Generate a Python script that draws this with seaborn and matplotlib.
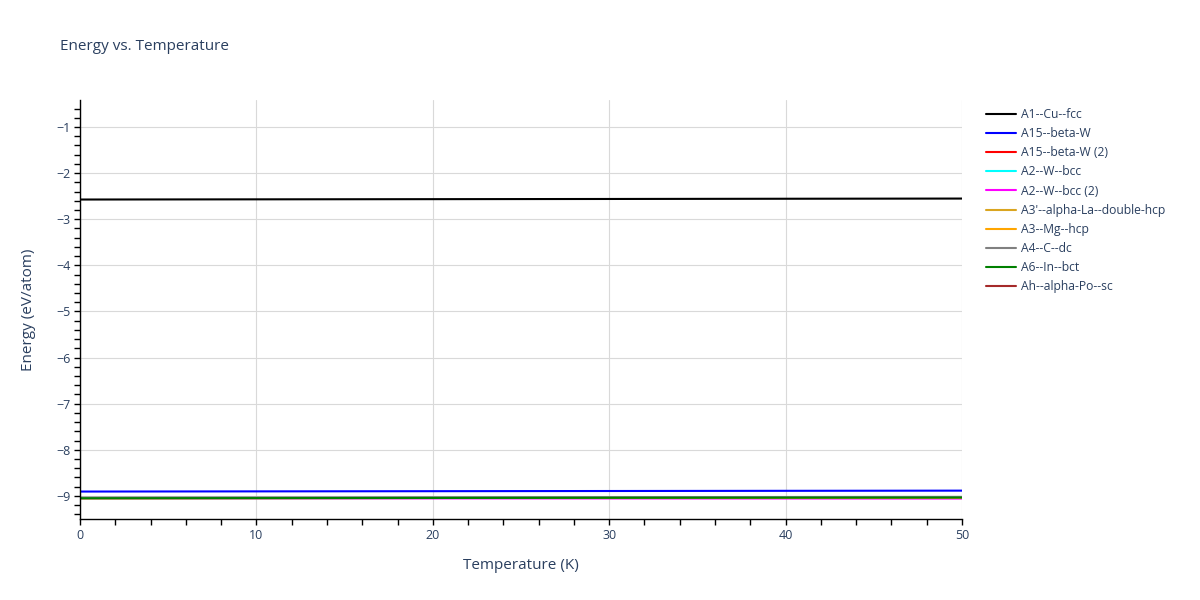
import numpy as np
import pandas as pd
import matplotlib
matplotlib.use("Agg")
import matplotlib.pyplot as plt
import seaborn as sns
from matplotlib.ticker import MultipleLocator
from matplotlib.lines import Line2D

temperature = [0, 10, 20, 30, 40, 50]
series_names = ["A1--Cu--fcc", "A15--beta-W", "A15--beta-W (2)", "A2--W--bcc",
                "A2--W--bcc (2)", "A3'--alpha-La--double-hcp", "A3--Mg--hcp",
                "A4--C--dc", "A6--In--bct", "Ah--alpha-Po--sc"]
colors = ["black", "blue", "red", "cyan", "magenta", "goldenrod", "orange",
          "gray", "green", "brown"]

e_a1 = [-2.573, -2.569, -2.565, -2.561, -2.556, -2.552]
e_a15 = [-8.905, -8.901, -8.897, -8.893, -8.889, -8.885]
e_a15_2 = [np.nan] * 6
e_a2 = [-9.050, -9.047, -9.044, -9.041, -9.038, -9.035]
e_a2_2 = [-9.052, -9.053, -9.054, -9.055, -9.056, -9.057]
e_a3p = [-9.050, -9.047, -9.044, -9.041, -9.038, -9.035]
e_a3 = [-9.050, -9.047, -9.044, -9.041, -9.038, -9.035]
e_a4 = [-9.035, -9.032, -9.029, -9.026, -9.023, -9.020]
e_a6 = [-9.050, -9.047, -9.044, -9.041, -9.038, -9.035]
e_ah = [np.nan] * 6

values = [e_a1, e_a15, e_a15_2, e_a2, e_a2_2, e_a3p, e_a3, e_a4, e_a6, e_ah]

sns.set_theme(style="white")
plt.rcParams['font.family'] = ['Open Sans', 'DejaVu Sans']
txt = "#2a3f5f"

fig = plt.figure(figsize=(12, 6), dpi=100)
ax = fig.add_axes([80/1200, 81/600, 882/1200, 419/600])

for i, (name, vals, c) in enumerate(zip(series_names, values, colors)):
    d = pd.DataFrame({"Temperature": temperature, "Energy": vals})
    if d["Energy"].notna().any():
        sns.lineplot(data=d, x="Temperature", y="Energy", color=c,
                     linewidth=1.5, ax=ax, estimator=None, zorder=2 + i * 0.01)

ax.set_xlim(0, 50)
ax.set_ylim(-9.5, -0.415)
ax.xaxis.set_major_locator(MultipleLocator(10))
ax.xaxis.set_minor_locator(MultipleLocator(2))
ax.yaxis.set_major_locator(MultipleLocator(1))
ax.yaxis.set_minor_locator(MultipleLocator(0.2))
ax.grid(True, which="major", color="#d9d9d9", linewidth=0.8)
ax.set_axisbelow(True)
for s in ["top", "right"]:
    ax.spines[s].set_visible(False)
for s in ["left", "bottom"]:
    ax.spines[s].set_color("black")
    ax.spines[s].set_linewidth(1.0)
ax.tick_params(which="major", direction="out", length=4, width=1, color="black",
               labelsize=9, labelcolor=txt, pad=3, left=True, bottom=True)
ax.tick_params(which="minor", direction="out", length=4, width=1, color="black",
               left=True, bottom=True)
ax.set_xlabel("Temperature (K)", fontsize=11, color=txt, labelpad=12)
ax.set_ylabel("Energy (eV/atom)", fontsize=11, color=txt, labelpad=14)

fig.text(60/1200, 1 - 47/600, "Energy vs. Temperature", fontsize=11, color=txt,
         va="center", ha="left")

handles = [Line2D([0], [0], color=c, linewidth=1.5) for c in colors]
leg = fig.legend(handles, series_names, loc="upper left",
                 bbox_to_anchor=(986/1200, 1 - 108/600), frameon=False,
                 fontsize=8.7, handlelength=2.5, handletextpad=0.4,
                 labelspacing=0.51, borderaxespad=0, borderpad=0)
for t in leg.get_texts():
    t.set_color(txt)

fig.savefig("out.png", dpi=100, facecolor="white")
